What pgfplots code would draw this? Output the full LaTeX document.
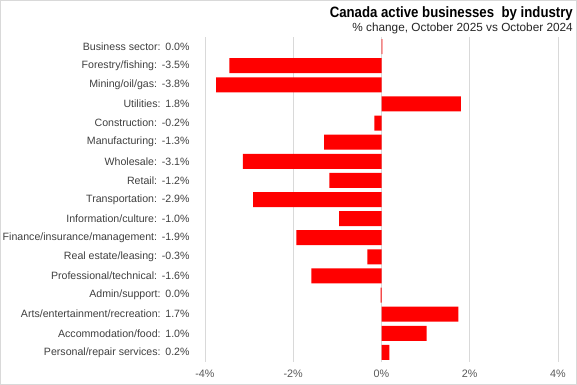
\documentclass[border=0pt]{standalone}
\usepackage{pgfplots}
\pgfplotsset{compat=1.18}
\usepackage{fontspec}
\setmainfont{Liberation Sans}
\newfontfamily\titlefont[FakeStretch=0.88]{Liberation Sans Bold}
\definecolor{gridc}{HTML}{D9D9D9}
\definecolor{labc}{HTML}{404040}
\definecolor{tickc}{HTML}{595959}
\definecolor{barred}{HTML}{FF0000}
\newcommand{\gap}{\hspace{0.45em}}
\begin{document}
\begin{tikzpicture}
\useasboundingbox (0,0) rectangle (577bp,385bp);
\fill[white] (0,0) rectangle (577bp,385bp);
\draw[gray!30, line width=0.8bp] (0.4bp,0.4bp) rectangle (576.6bp,384.6bp);
\begin{axis}[
  at={(205bp,23bp)}, anchor=south west,
  width=353bp, height=325bp, scale only axis,
  xbar, bar width=15bp,
  xmin=-4, xmax=4, ymin=-0.5, ymax=16.5,
  y dir=reverse,
  axis line style={draw=none},
  tick style={draw=none},
  xmajorgrids, major grid style={gridc, line width=0.75bp},
  xtick={-4,-2,0,2,4},
  xticklabels={-4\%,-2\%,0\%,2\%,4\%},
  ytick={0,...,16},
  yticklabels={
    Business sector:\gap 0.0\%,
    Forestry/fishing:\gap -3.5\%,
    Mining/oil/gas:\gap -3.8\%,
    Utilities:\gap 1.8\%,
    Construction:\gap -0.2\%,
    Manufacturing:\gap -1.3\%,
    Wholesale:\gap -3.1\%,
    Retail:\gap -1.2\%,
    Transportation:\gap -2.9\%,
    Information/culture:\gap -1.0\%,
    Finance/insurance/management:\gap -1.9\%,
    Real estate/leasing:\gap -0.3\%,
    Professional/technical:\gap -1.6\%,
    Admin/support:\gap 0.0\%,
    Arts/entertainment/recreation:\gap 1.7\%,
    Accommodation/food:\gap 1.0\%,
    Personal/repair services:\gap 0.2\%},
  yticklabel style={anchor=east, inner sep=0pt, xshift=-11bp, font=\fontsize{10.6bp}{12bp}\selectfont, text=labc},
  xticklabel style={anchor=north, inner sep=0pt, yshift=-8bp, font=\fontsize{10.8bp}{12bp}\selectfont, text=tickc},
  /pgf/number format/assume math mode=true,
  clip=false,
]
\addplot[fill=barred, draw=none] coordinates {
  (0.02,0) (-3.45,1) (-3.75,2) (1.80,3) (-0.16,4) (-1.30,5) (-3.14,6)
  (-1.18,7) (-2.91,8) (-0.96,9) (-1.93,10) (-0.32,11) (-1.59,12)
  (-0.02,13) (1.74,14) (1.02,15) (0.18,16)
};
\end{axis}
\node[anchor=base east, inner sep=0pt] at (573bp,367bp) {\titlefont\fontsize{15bp}{18bp}\selectfont Canada active businesses\hspace{0.5em}by industry};
\node[anchor=base east, inner sep=0pt, text=black!85] at (573bp,353bp) {\fontsize{11.8bp}{14bp}\selectfont \% change, October 2025 vs October 2024};
\end{tikzpicture}
\end{document}
